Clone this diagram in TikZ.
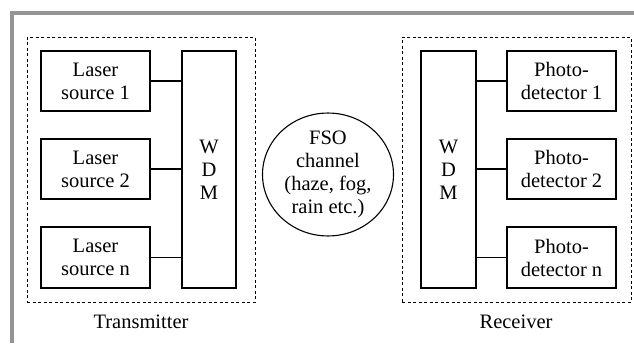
\documentclass[tikz,border=0pt]{standalone}
\usepackage{fontspec}
\setmainfont{Liberation Serif}
\usetikzlibrary{shapes.geometric}
\begin{document}
\begin{tikzpicture}[x=1pt,y=-1pt,
  every node/.style={font=\fontsize{20.5}{23}\selectfont},
  blk/.style={draw,line width=1.3pt,align=center,inner sep=0pt},
  grp/.style={draw,dashed,dash pattern=on 3pt off 2.5pt,line width=0.9pt,inner sep=0pt},
  link/.style={line width=1.3pt}]
\useasboundingbox (0,0) rectangle (634,343);
\draw[line width=4pt,color=black!42] (634,13) -- (12,13) -- (12,343);
% transmitter
\node[grp,minimum width=228pt,minimum height=265pt] (tx) at (141,169.5) {};
\node[blk,minimum width=109pt,minimum height=60pt] (l1) at (95.5,81) {Laser\\source 1};
\node[blk,minimum width=109pt,minimum height=60pt] (l2) at (95.5,169) {Laser\\source 2};
\node[blk,minimum width=109pt,minimum height=61pt] (ln) at (95.5,257.5) {Laser\\source n};
\node[blk,minimum width=54pt,minimum height=237pt] (w1) at (209,169.5) {W\\D\\M};
\draw[link] (l1.east) -- (l1.east -| w1.west);
\draw[link] (l2.east) -- (l2.east -| w1.west);
\draw[link] (ln.east) -- (ln.east -| w1.west);
\node[anchor=center] (txl) at (141,322) {Transmitter};
% channel
\node[draw,ellipse,line width=1.1pt,minimum width=131pt,minimum height=107pt,inner sep=0pt,align=center] (ch) at (328,174.5) {FSO\\channel\\(haze, fog,\\rain etc.)};
% receiver
\node[grp,minimum width=229pt,minimum height=265pt] (rx) at (516.5,169.5) {};
\node[blk,minimum width=55pt,minimum height=237pt] (w2) at (448.5,169.5) {W\\D\\M};
\node[blk,minimum width=109pt,minimum height=60pt] (p1) at (561.5,81) {Photo-\\detector 1};
\node[blk,minimum width=109pt,minimum height=60pt] (p2) at (561.5,169) {Photo-\\detector 2};
\node[blk,minimum width=109pt,minimum height=61pt] (pn) at (561.5,257.5) {Photo-\\detector n};
\draw[link] (p1.west) -- (p1.west -| w2.east);
\draw[link] (p2.west) -- (p2.west -| w2.east);
\draw[link] (pn.west) -- (pn.west -| w2.east);
\node[anchor=center] (rxl) at (516,322) {Receiver};
\end{tikzpicture}
\end{document}
